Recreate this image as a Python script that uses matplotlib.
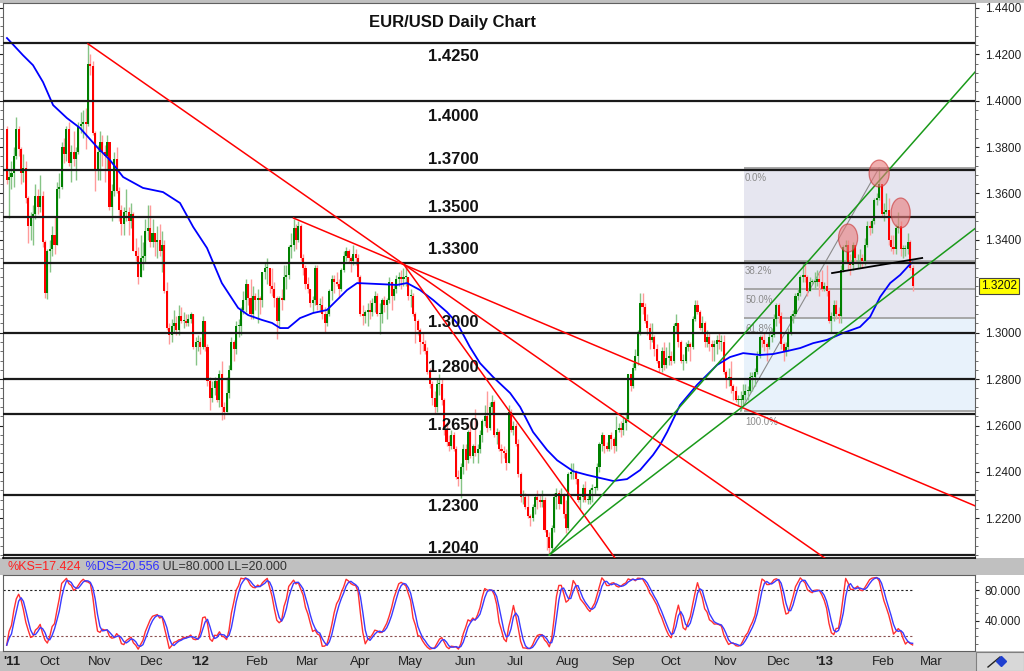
import numpy as np
import pandas as pd
import matplotlib
matplotlib.use("Agg")
import matplotlib.pyplot as plt
import matplotlib.transforms as mtransforms
from matplotlib.patches import Rectangle, Ellipse
from matplotlib.ticker import FixedLocator, FormatStrFormatter

plt.rcParams['font.family'] = ['Liberation Sans', 'DejaVu Sans']

# ---------------------------------------------------------------- data
first_date = '2011-09-09'
first_open = 1.3880
# daily values in pips above 1.0000, one line per month (Sep 2011 .. Feb 2013)
close_pips = [
    3660,3670,3690,3760,3880,3790,3690,3710,3580,3460,3500,3510,3590,3540,3590,3390,
    3170,3350,3360,3420,3380,3620,3630,3800,3770,3880,3730,3780,3750,3780,3890,3900,3910,3900,4160,4150,3860,
    3700,3780,3820,3780,3760,3820,3540,3610,3750,3610,3530,3470,3520,3520,3480,3510,3350,3330,3240,3320,3330,3440,
    3450,3390,3430,3390,3400,3350,3380,3180,3020,2990,3030,3040,3010,3070,3050,3050,3040,3060,3080,2940,2960,2960,
    2940,3050,2940,2790,2720,2760,2790,2710,2820,2680,2660,2740,2840,2960,2930,3030,3030,3100,3140,3210,3150,3080,
    3160,3140,3150,3140,3260,3280,3280,3200,3190,3150,3050,3150,3140,3240,3250,3370,3380,3450,3400,3460,3320,
    3280,3210,3190,3130,3140,3280,3120,3120,3080,3040,3080,3180,3230,3220,3210,3190,3270,3330,3350,3320,3310,3340,
    3320,3240,3080,3070,3090,3100,3090,3130,3160,3080,3080,3140,3120,3140,3220,3160,3190,3230,3240,3230,3240,
    3240,3160,3160,3080,3050,3010,2960,2950,2920,2830,2780,2720,2680,2780,2780,2710,2580,2530,2510,2560,2500,2380,2370,
    2420,2500,2450,2570,2470,2510,2480,2500,2560,2620,2640,2590,2680,2700,2560,2570,2500,2490,2480,2440,2660,
    2580,2600,2520,2390,2290,2290,2250,2210,2200,2250,2290,2280,2270,2280,2150,2120,2070,2160,2290,2310,2260,2300,
    2220,2160,2390,2400,2400,2370,2280,2290,2330,2280,2280,2320,2330,2330,2420,2520,2560,2510,2500,2560,2540,2510,2580,
    2590,2580,2610,2630,2820,2770,2850,2900,3000,3130,3110,3050,3020,2970,2980,2930,2880,2850,2920,2860,
    2890,2900,2880,3030,3040,2960,2880,2880,2940,2950,2940,3060,3120,3090,3020,3040,2960,2980,2950,2940,2950,2970,2960,
    2960,2830,2800,2810,2770,2750,2710,2710,2710,2730,2750,2750,2810,2810,2830,2900,2980,2970,2950,2940,2980,2990,
    3060,3120,3070,2950,2920,2940,3000,3070,3080,3160,3170,3240,3250,3240,3180,3220,3220,3220,3230,3220,3190,
    3200,3180,3050,3070,3120,3080,3070,3270,3370,3380,3300,3290,3380,3320,3320,3320,3310,3380,3460,3450,3480,3570,3580,
    3640,3510,3520,3530,3400,3370,3360,3450,3460,3360,3360,3360,3390,3280,3202,
]
high_pips = [
    3890,3700,3740,3800,3930,3890,3800,3770,3740,3590,3520,3550,3640,3620,3680,3610,
    3400,3360,3400,3460,3500,3650,3690,3820,3840,3890,3910,3810,3870,3800,3910,3950,3960,3970,4245,4200,4170,
    3870,3810,3870,3850,3810,3850,3820,3640,3780,3800,3630,3550,3540,3620,3540,3560,3520,3410,3370,3420,3390,3490,
    3550,3550,3490,3420,3460,3470,3440,3400,3220,3040,3060,3100,3070,3120,3110,3090,3080,3080,3090,3080,2980,2990,
    2980,3070,3050,2950,2810,2790,2810,2800,2840,2880,2700,2810,2860,2980,2970,3050,3060,3110,3180,3230,3200,3230,
    3200,3170,3190,3160,3260,3300,3320,3240,3280,3220,3160,3160,3190,3290,3290,3380,3430,3490,3470,3480,3470,
    3340,3290,3240,3190,3160,3290,3290,3150,3160,3110,3100,3190,3250,3250,3260,3230,3280,3350,3370,3360,3330,3380,
    3360,3340,3250,3120,3100,3130,3140,3150,3180,3170,3130,3150,3160,3150,3240,3220,3210,3250,3260,3270,3280,
    3285,3240,3190,3170,3090,3060,3020,3000,2970,2940,2850,2790,2750,2800,2820,2800,2720,2610,2560,2580,2570,2510,2410,
    2440,2520,2520,2580,2620,2520,2670,2520,2580,2630,2690,2750,2700,2730,2710,2590,2580,2520,2510,2500,2690,
    2670,2620,2610,2540,2400,2320,2310,2300,2220,2260,2300,2320,2300,2320,2290,2150,2140,2170,2310,2330,2320,2330,
    2310,2280,2400,2440,2440,2410,2370,2300,2350,2360,2300,2330,2350,2340,2440,2530,2570,2560,2530,2560,2570,2550,2640,
    2610,2620,2640,2660,2820,2820,2870,2930,3010,3170,3170,3130,3080,3040,3040,2990,2950,2880,2940,2960,
    2940,2960,2920,3040,3080,3010,2970,2910,2960,2970,2960,3070,3140,3140,3100,3070,3050,3010,3000,2970,2970,2990,3000,
    2990,2990,2840,2850,2880,2780,2770,2730,2750,2780,2780,2770,2830,2830,2850,2920,2990,2990,3000,2960,3000,3020,
    3080,3130,3130,3090,2960,2960,3020,3080,3100,3170,3190,3250,3308,3290,3250,3240,3230,3260,3270,3260,3270,
    3220,3290,3190,3090,3140,3140,3110,3290,3380,3400,3400,3340,3390,3380,3340,3360,3340,3410,3480,3480,3490,3580,3600,
    3711,3640,3560,3600,3580,3420,3420,3470,3520,3480,3380,3380,3430,3400,3290,
]
low_pips = [
    3640,3495,3620,3630,3750,3760,3640,3650,3560,3385,3400,3380,3490,3510,3520,3370,
    3150,3145,3260,3330,3340,3380,3580,3620,3730,3740,3720,3650,3720,3660,3770,3860,3840,3790,3890,4110,3850,
    3610,3660,3660,3720,3650,3700,3530,3480,3590,3600,3480,3420,3420,3480,3420,3450,3350,3310,3210,3300,3270,3300,
    3400,3370,3370,3330,3320,3330,3260,3170,3010,2950,2960,3000,2990,2990,3040,3020,3030,3030,3040,2930,2860,2920,
    2910,2930,2920,2770,2665,2700,2730,2700,2680,2624,2630,2660,2720,2840,2880,2910,2980,2990,3080,3090,3120,3060,
    3060,3100,3040,3080,3110,3230,3210,3170,3160,3110,2975,3020,3100,3140,3190,3230,3320,3350,3360,3390,3310,
    3250,3190,3170,3110,3090,3120,3100,3090,3060,3000,3030,3070,3140,3170,3200,3150,3180,3260,3310,3300,3260,3290,
    3290,3210,3070,3035,3040,3030,3060,3070,3090,3070,2995,3040,3090,3060,3130,3100,3140,3170,3200,3190,3200,
    3200,3140,3110,3070,2955,2990,2910,2920,2910,2820,2760,2690,2650,2660,2730,2690,2560,2510,2490,2500,2490,2370,2340,
    2288,2390,2410,2440,2460,2440,2470,2440,2480,2530,2600,2570,2580,2650,2550,2520,2490,2440,2460,2410,2440,
    2570,2560,2510,2380,2270,2260,2240,2200,2165,2190,2220,2240,2250,2250,2140,2065,2042,2060,2140,2240,2240,2260,
    2200,2135,2150,2370,2370,2350,2270,2240,2270,2270,2260,2260,2270,2300,2320,2400,2490,2480,2490,2490,2500,2480,2490,
    2570,2550,2560,2580,2620,2750,2760,2840,2860,2990,3080,3040,2990,2930,2960,2900,2870,2830,2830,2840,
    2850,2860,2860,2870,3000,2940,2870,2840,2870,2920,2880,2930,3050,3080,3010,3000,2940,2940,2920,2880,2880,2910,2930,
    2920,2820,2760,2770,2740,2710,2700,2690,2662,2690,2710,2710,2740,2750,2770,2820,2890,2940,2920,2880,2930,2960,
    2980,3030,3040,2930,2877,2900,2920,2990,3040,3070,3140,3160,3220,3220,3160,3190,3210,3190,3200,3160,3180,
    3180,3160,3040,3000,3050,3060,3040,3040,3260,3300,3270,3250,3270,3300,3280,3280,3280,3290,3370,3420,3430,3470,3550,
    3570,3500,3480,3510,3380,3350,3340,3340,3430,3330,3320,3330,3340,3270,3180,
]

# 50-day moving average (trading-day index, price)
ma_day = [0.1, 6.8, 11, 15.2, 19.4, 25.2, 30.7, 37.8, 43.2, 48.7, 57, 65.4, 72.5, 78, 83.8, 90,
          96.8, 101, 106.8, 111, 114.4, 117.7, 122.7, 128.2, 134, 138.2, 142.4, 146.6, 155, 163.3,
          167.5, 172.9, 178.4, 184.2, 188.4, 193.8, 198, 203.5, 210.6, 214.8, 220.2, 226.1, 230.3,
          237, 242.8, 248.2, 253.7, 259.5, 265, 270.4, 273.3, 276.3, 281.7, 288.8, 297.2, 302.6,
          308.1, 315.2, 320.6, 326.5, 332, 337.4, 343.2, 350, 357, 361.2, 365.4, 369.6, 373.8, 378, 379]
ma_val = [1.4270, 1.4196, 1.4153, 1.4080, 1.3981, 1.3925, 1.3882, 1.3800, 1.3744, 1.3671, 1.3624,
          1.3606, 1.3559, 1.3456, 1.3365, 1.3214, 1.3107, 1.3076, 1.3055, 1.3042, 1.3020, 1.3020,
          1.3063, 1.3085, 1.3098, 1.3141, 1.3184, 1.3214, 1.3210, 1.3206, 1.3214, 1.3184, 1.3141,
          1.3089, 1.3042, 1.2938, 1.2869, 1.2809, 1.2740, 1.2680, 1.2572, 1.2494, 1.2450, 1.2403,
          1.2387, 1.2374, 1.2361, 1.2369, 1.2408, 1.2473, 1.2516, 1.2572, 1.2688, 1.2775, 1.2861,
          1.2895, 1.2912, 1.2904, 1.2908, 1.2921, 1.2934, 1.2955, 1.2969, 1.2999, 1.3025, 1.3068,
          1.3154, 1.3214, 1.3249, 1.3296, 1.3302]

sr_levels = [1.4250, 1.4000, 1.3700, 1.3500, 1.3300, 1.3000, 1.2800, 1.2650, 1.2300, 1.2040]

price_ticks = [1.22, 1.24, 1.26, 1.28, 1.30, 1.34, 1.36, 1.38, 1.40, 1.42, 1.44]

fib_high = 1.3711
fib_low = 1.2662
fib_ratios = [0.0, 0.382, 0.5, 0.618, 1.0]
fib_labels = ['0.0%', '38.2%', '50.0%', '61.8%', '100.0%']

red_lines = [((34, 1.4245), (345, 1.2009)),
             ((120, 1.3494), (406, 1.2250)),
             ((166, 1.3296), (256, 1.2007))]
green_lines = [((227, 1.2042), (405.5, 1.4128)),
               ((227, 1.2042), (405.5, 1.3452))]
neckline = ((345.3, 1.3257), (383, 1.3322))
fib_diag = ((307, 1.2662), (365, 1.3711))
hs_day = [352.0, 365.0, 374.0]
hs_price = [1.3408, 1.3686, 1.3516]
last_price = 1.3202
stoch_texts = ['%KS=17.424', ' %DS=20.556', ' UL=80.000 LL=20.000']
stoch_upper, stoch_lower = 80, 20

# ---------------------------------------------------------------- prep
close = 1 + np.array(close_pips) / 10000.0
high = 1 + np.array(high_pips) / 10000.0
low = 1 + np.array(low_pips) / 10000.0
opens = np.concatenate([[first_open], close[:-1]])
high = np.maximum(high, np.maximum(opens, close))
low = np.minimum(low, np.minimum(opens, close))
n = len(close)
xd = np.arange(n)

s_c = pd.Series(close)
hh = pd.Series(high).rolling(14, min_periods=1).max()
ll = pd.Series(low).rolling(14, min_periods=1).min()
k_fast = 100 * (s_c - ll) / (hh - ll)
k_slow = k_fast.rolling(3, min_periods=1).mean()
d_slow = k_slow.rolling(3, min_periods=1).mean()

# ---------------------------------------------------------------- figure
W, H = 1024, 671
fig = plt.figure(figsize=(W / 100, H / 100), dpi=100)
fig.patch.set_facecolor('white')


def fbox(x0, y0, x1, y1):
    return [x0 / W, 1 - y1 / H, (x1 - x0) / W, (y1 - y0) / H]


GRAY = '#c0c0c0'
for (x0, y0, x1, y1) in [(0, 0, W, 3), (0, 558, W, 575), (0, 651, W, H)]:
    fig.add_artist(Rectangle((x0 / W, 1 - y1 / H), (x1 - x0) / W, (y1 - y0) / H,
                             transform=fig.transFigure, facecolor=GRAY, edgecolor='none', zorder=-5))
fig.add_artist(Rectangle((976 / W, 1 - H / H), 48 / W, 19 / H, transform=fig.transFigure,
                         facecolor='#d8d8d8', edgecolor='#808080', lw=0.8, zorder=-4))

XMIN, XMAX = -1.55, 405.1
ax = fig.add_axes(fbox(3, 3, 975, 558))
ax.set_xlim(XMIN, XMAX)
ax.set_ylim(1.2029, 1.4421)
ax.set_facecolor('white')

# fib zone
fib_levels = [fib_high - r * (fib_high - fib_low) for r in fib_ratios]
fib_x0 = 308.5
ax.add_patch(Rectangle((fib_x0, fib_levels[3]), XMAX - fib_x0, fib_levels[0] - fib_levels[3],
                       facecolor='#e6e6f0', edgecolor='none', zorder=0.5))
ax.add_patch(Rectangle((fib_x0, fib_levels[4]), XMAX - fib_x0, fib_levels[3] - fib_levels[4],
                       facecolor='#e8f2fb', edgecolor='none', zorder=0.5))
for lv, lab in zip(fib_levels, fib_labels):
    ax.hlines(lv, fib_x0, XMAX, colors='#a6a6a6', lw=1.4, zorder=0.8)
    ax.annotate(lab, xy=(fib_x0 + 0.4, lv), xytext=(0, -7.5), textcoords='offset points',
                ha='left', va='center', fontsize=7, color='#8c8c8c', zorder=0.9)
ax.plot([fib_diag[0][0], fib_diag[1][0]], [fib_diag[0][1], fib_diag[1][1]],
        color='#8a8a8a', lw=0.8, zorder=1)

# candles
up = close >= opens
body_c = np.where(up, '#008000', '#ff0000')
wick_c = np.where(up, '#86c486', '#ff9a9a')
ax.vlines(xd, low, high, colors=wick_c, lw=1.0, zorder=2)
bot = np.minimum(opens, close)
hgt = np.maximum(np.abs(close - opens), 0.00035)
ax.bar(xd, hgt, bottom=bot, width=0.85, color=body_c, linewidth=0, zorder=3)

# moving average
ax.plot(ma_day, ma_val, color='#0000ff', lw=1.3, zorder=3.5)

# support / resistance lines + labels
sr_offsets_pt = [-10, -11.5, 8, 6.5, 10, 7.5, 8, -8, -8, 5]
for lv, off in zip(sr_levels, sr_offsets_pt):
    ax.axhline(lv, color='#1a1a1a', lw=1.6, zorder=4)
    ax.annotate(f'{lv:.4f}', xy=(186.8, lv), xytext=(0, off), textcoords='offset points',
                ha='center', va='center', fontsize=12, fontweight='bold', color='#111111', zorder=6)

# trend lines
for (p0, p1) in red_lines:
    ax.plot([p0[0], p1[0]], [p0[1], p1[1]], color='#ff0000', lw=1.1, zorder=4.5)
for (p0, p1) in green_lines:
    ax.plot([p0[0], p1[0]], [p0[1], p1[1]], color='#1a9a1a', lw=1.1, zorder=4.5)
ax.plot([neckline[0][0], neckline[1][0]], [neckline[0][1], neckline[1][1]],
        color='#000000', lw=1.3, zorder=5)

# head & shoulders markers
hs_w = [8.0, 8.4, 8.0]
hs_h = [0.0121, 0.0116, 0.0129]
for cx, cy, w, h in zip(hs_day, hs_price, hs_w, hs_h):
    ax.add_patch(Ellipse((cx, cy), w, h, facecolor='#e97a7a', alpha=0.6,
                         edgecolor='#c83030', lw=0.9, zorder=7))

ax.text(0.462, 0.964, 'EUR/USD Daily Chart', transform=ax.transAxes, ha='center', va='center',
        fontsize=12, fontweight='bold', color='#111111', zorder=8)

# axes styling
ax.yaxis.tick_right()
ax.yaxis.set_major_locator(FixedLocator(price_ticks))
ax.yaxis.set_major_formatter(FormatStrFormatter('%.4f'))
ax.yaxis.set_minor_locator(FixedLocator([1.204 + 0.004 * k for k in range(60)]))
ax.tick_params(axis='y', which='major', labelsize=8.5, length=3, pad=4, colors='#222222')
ax.tick_params(axis='y', which='minor', length=2, colors='#555555')
ax.tick_params(axis='y', which='both', left=True, right=True)
ax.tick_params(axis='y', which='major', labelleft=False)
ax.set_xticks([])
for sp in ax.spines.values():
    sp.set_color('#606060')
    sp.set_linewidth(0.8)
ax.spines['bottom'].set_color('#000000')
ax.spines['bottom'].set_linewidth(1.2)

# last price tag
trans = mtransforms.blended_transform_factory(ax.transAxes, ax.transData)
ax.text(1.0058, last_price, f'{last_price:.4f}', transform=trans, ha='left', va='center',
        fontsize=8.5, color='#111111', clip_on=False, zorder=10,
        bbox=dict(boxstyle='square,pad=0.18', facecolor='#ffff00', edgecolor='#444444', lw=0.8))

# ---------------------------------------------------------------- stochastic panel
ax2 = fig.add_axes(fbox(3, 575, 975, 651))
ax2.set_xlim(XMIN, XMAX)
ax2.set_ylim(0.4, 99.6)
ax2.plot(xd, k_slow, color='#ff3030', lw=1.0, zorder=3)
ax2.plot(xd, d_slow, color='#3a3aff', lw=1.0, zorder=3.2)
ax2.hlines(stoch_upper, XMIN, n - 1, colors='#222222', lw=0.8, linestyles=(0, (2, 2)), zorder=2)
ax2.hlines(stoch_lower, XMIN, n - 1, colors='#8a5050', lw=0.8, linestyles=(0, (2, 2)), zorder=2)
ax2.yaxis.tick_right()
ax2.yaxis.set_major_locator(FixedLocator([40, 80]))
ax2.yaxis.set_major_formatter(FormatStrFormatter('%.3f'))
ax2.yaxis.set_minor_locator(FixedLocator(list(range(0, 101, 10))))
ax2.tick_params(axis='y', which='major', labelsize=8.5, length=3, pad=4, colors='#222222')
ax2.tick_params(axis='y', which='minor', length=2, colors='#555555')
ax2.set_xticks([])
for sp in ax2.spines.values():
    sp.set_color('#606060')
    sp.set_linewidth(0.8)

# stochastic readout in the header bar
t = fig.text(8 / W, 1 - 567 / H, stoch_texts[0], color='#ff2020', fontsize=9, ha='left', va='center')
t2 = ax2.annotate(stoch_texts[1], xy=(1, 0.5), xycoords=t, ha='left', va='center',
                  color='#3030ff', fontsize=9, annotation_clip=False)
ax2.annotate(stoch_texts[2], xy=(1, 0.5), xycoords=t2, ha='left', va='center',
             color='#333333', fontsize=9, annotation_clip=False)

# month labels on the bottom strip
days = pd.bdate_range(first_date, '2013-03-29')
xlab = mtransforms.blended_transform_factory(ax2.transData, fig.transFigure)
for i in range(len(days)):
    if i > 0 and days[i].month == days[i - 1].month:
        continue
    if i > XMAX - 15:
        break
    d = days[i]
    if i == 0:
        lab, pos, bold = "'11", 2.2, True
    elif d.month == 1:
        lab, pos, bold = "'" + d.strftime('%y'), i, True
    else:
        lab, pos, bold = d.strftime('%b'), i + 1.8, False
    fig.text(pos, 1 - 662 / H, lab, transform=xlab, ha='center', va='center',
             fontsize=9.5, fontweight='bold' if bold else 'normal', color='#222222')

# small icon in the corner box
fig.add_artist(plt.Line2D([988 / W, 1000 / W], [1 - 667 / H, 1 - 657 / H],
                          transform=fig.transFigure, color='#222222', lw=1))
fig.add_artist(plt.Line2D([1001 / W], [1 - 661 / H], transform=fig.transFigure,
                          marker='D', markersize=5, color='#2040d0', lw=0))

fig.savefig('out.png', dpi=100)
